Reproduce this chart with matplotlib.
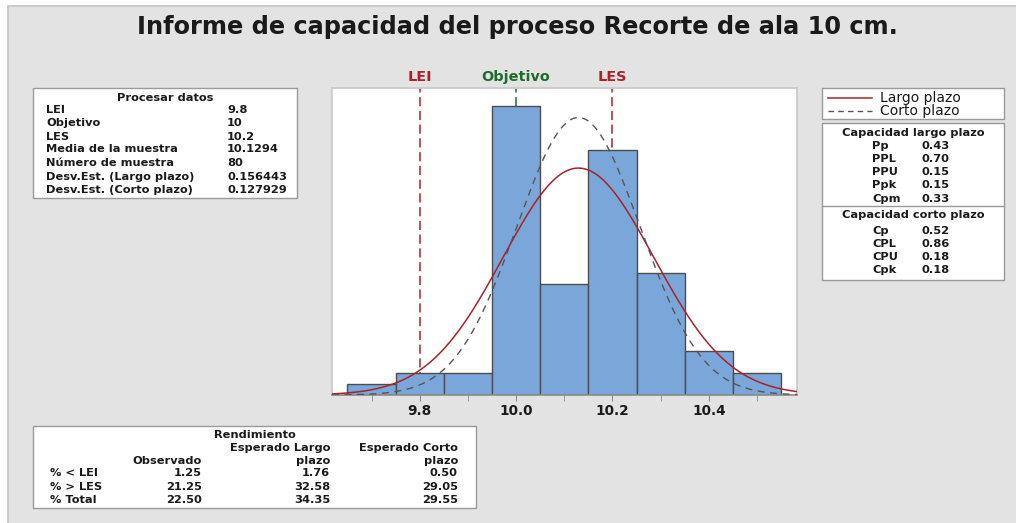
import numpy as np
import matplotlib
matplotlib.use("Agg")
import matplotlib.pyplot as plt
from matplotlib.patches import Rectangle
from matplotlib.lines import Line2D

# --- data ---------------------------------------------------------------
bin_centers = [9.7, 9.8, 9.9, 10.0, 10.1, 10.2, 10.3, 10.4, 10.5]
counts = [1, 2, 2, 26, 10, 22, 11, 4, 2]
bin_width = 0.1

lei = 9.8
objetivo = 10.0
les = 10.2
media = 10.1294
n_muestra = 80
sd_largo = 0.156443
sd_corto = 0.127929

proc_labels = ["LEI", "Objetivo", "LES", "Media de la muestra", "Número de muestra",
               "Desv.Est. (Largo plazo)", "Desv.Est. (Corto plazo)"]
proc_values = ["9.8", "10", "10.2", "10.1294", "80", "0.156443", "0.127929"]

largo_labels = ["Pp", "PPL", "PPU", "Ppk", "Cpm"]
largo_values = ["0.43", "0.70", "0.15", "0.15", "0.33"]
corto_labels = ["Cp", "CPL", "CPU", "Cpk"]
corto_values = ["0.52", "0.86", "0.18", "0.18"]

rend_rows = ["% < LEI", "% > LES", "% Total"]
rend_obs = ["1.25", "21.25", "22.50"]
rend_largo = ["1.76", "32.58", "34.35"]
rend_corto = ["0.50", "29.05", "29.55"]

x_ticks = [9.8, 10.0, 10.2, 10.4]

# --- styling ------------------------------------------------------------
W, H = 1016, 523
TXT = "#1a1a1a"
RED = "#a8232a"
GREEN = "#1e6b2a"
BAR = "#7ba6d9"
BG = "#e3e3e3"
BODY = 8.2

plt.rcParams["font.family"] = ["DejaVu Sans"]

fig = plt.figure(figsize=(W / 100, H / 100), dpi=100)
fig.patch.set_facecolor("white")


def fx(px):
    return px / W


def fy(py):
    return 1 - py / H


def box(x0, y0, x1, y1, fc="white", ec="#9a9a9a", lw=1.0):
    fig.add_artist(Rectangle((fx(x0), fy(y1)), fx(x1) - fx(x0), fy(y0) - fy(y1),
                             transform=fig.transFigure, facecolor=fc, edgecolor=ec,
                             linewidth=lw, zorder=0))


def txt(x, y, s, ha="left", size=BODY, color=TXT, weight="bold"):
    fig.text(fx(x), fy(y), s, ha=ha, va="center", fontsize=size, color=color,
             fontweight=weight, zorder=3)


# panel background
box(8, 6, W + 5, H + 5, fc=BG, ec="#c4c4c4", lw=1.2)

# title
txt(W / 2 + 9, 27, "Informe de capacidad del proceso Recorte de ala 10 cm.",
    ha="center", size=17.3)

# --- histogram ----------------------------------------------------------
ax = fig.add_axes([fx(332), fy(395), fx(797) - fx(332), fy(88) - fy(395)])
ax.set_facecolor("white")
ax.bar(bin_centers, counts, width=bin_width, color=BAR, edgecolor="#4d4d4d",
       linewidth=1.0, zorder=2)

xlo, xhi = 9.618, 10.583
ax.set_xlim(xlo, xhi)
ax.set_ylim(0, 27.6)

xs = np.linspace(xlo, xhi, 400)
scale = n_muestra * bin_width


def normal(x, mu, sd):
    return np.exp(-0.5 * ((x - mu) / sd) ** 2) / (sd * np.sqrt(2 * np.pi))


ax.plot(xs, scale * normal(xs, media, sd_largo), color=RED, lw=1.1, zorder=4)
ax.plot(xs, scale * normal(xs, media, sd_corto), color="#555555", lw=1.0,
        ls=(0, (5, 4)), zorder=4)

# specification lines (behind the bars)
for xv, col in [(lei, RED), (les, RED), (objetivo, GREEN)]:
    ax.axvline(xv, color=col, lw=1.1, ls=(0, (6, 3)), zorder=1)

trans = ax.get_xaxis_transform()
for xv, lab, col in [(lei, "LEI", RED), (objetivo, "Objetivo", GREEN), (les, "LES", RED)]:
    ax.text(xv, 1.035, lab, transform=trans, ha="center", va="center",
            color=col, fontsize=10.4, fontweight="bold")

ax.set_yticks([])
ax.set_xticks(x_ticks)
ax.set_xticklabels([f"{v:.1f}" for v in x_ticks], fontsize=9.8, fontweight="bold",
                   color=TXT)
ax.set_xticks(np.arange(9.7, 10.55, 0.2), minor=True)
ax.tick_params(axis="x", which="both", length=4, color="#8a8a8a", pad=2.5)
for side in ["left", "top", "right"]:
    ax.spines[side].set_color("#c8c8c8")
    ax.spines[side].set_linewidth(1.2)
ax.spines["bottom"].set_color("#8a8a8a")
ax.spines["bottom"].set_linewidth(1.2)

# --- process data table -------------------------------------------------
box(33, 88, 297, 198)
txt(165, 98, "Procesar datos", ha="center")
row_y = [110, 123, 136.5, 149.5, 163, 176.5, 190]
for yy, lab, val in zip(row_y, proc_labels, proc_values):
    txt(46, yy, lab)
    txt(227, yy, val)

# --- legend -------------------------------------------------------------
box(822, 88, 1004, 119)
fig.add_artist(Line2D([fx(828), fx(872)], [fy(98), fy(98)], color=RED, lw=1.1,
                      transform=fig.transFigure, zorder=3))
fig.add_artist(Line2D([fx(828), fx(872)], [fy(111), fy(111)], color="#555555", lw=1.0,
                      ls=(0, (4, 3)), transform=fig.transFigure, zorder=3))
txt(880, 98, "Largo plazo", weight="normal", size=10.0)
txt(880, 111, "Corto plazo", weight="normal", size=10.0)

# --- capability table ---------------------------------------------------
box(822, 123, 1004, 280)
fig.add_artist(Line2D([fx(822), fx(1004)], [fy(206), fy(206)], color="#9a9a9a", lw=1.0,
                      transform=fig.transFigure, zorder=3))
txt(913, 133, "Capacidad largo plazo", ha="center")
for yy, lab, val in zip([146, 159, 172, 185, 199], largo_labels, largo_values):
    txt(872, yy, lab)
    txt(922, yy, val)
txt(913, 215, "Capacidad corto plazo", ha="center")
for yy, lab, val in zip([231, 244, 257, 270], corto_labels, corto_values):
    txt(872, yy, lab)
    txt(922, yy, val)

# --- yield table --------------------------------------------------------
box(33, 426, 476, 508)
txt(255, 435, "Rendimiento", ha="center")
txt(330, 448, "Esperado Largo", ha="right")
txt(458, 448, "Esperado Corto", ha="right")
txt(202, 461, "Observado", ha="right")
txt(330, 461, "plazo", ha="right")
txt(458, 461, "plazo", ha="right")
for yy, lab, o, l, c in zip([473, 487, 500], rend_rows, rend_obs, rend_largo, rend_corto):
    txt(50, yy, lab)
    txt(202, yy, o, ha="right")
    txt(330, yy, l, ha="right")
    txt(458, yy, c, ha="right")

fig.savefig("out.png", dpi=100, facecolor=fig.get_facecolor())
